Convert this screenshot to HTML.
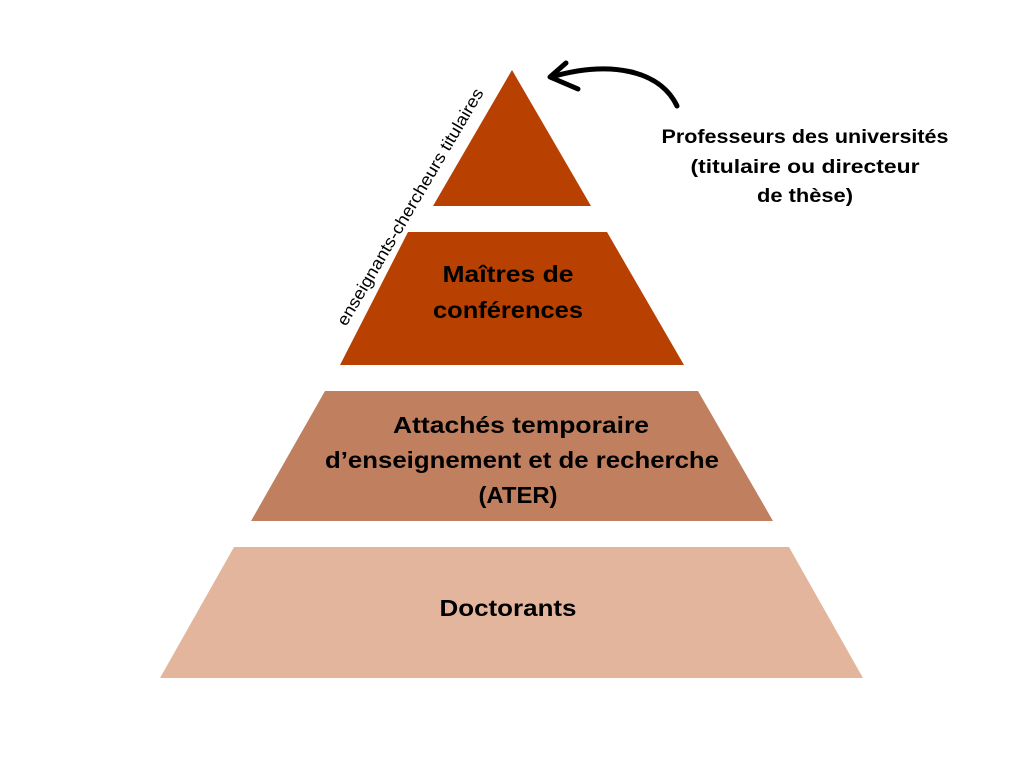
<!DOCTYPE html>
<html><head><meta charset="utf-8"><style>body{margin:0;background:#fff}svg{display:block}</style></head>
<body>
<svg width="1024" height="768" viewBox="0 0 1024 768" xmlns="http://www.w3.org/2000/svg" font-family="Liberation Sans, DejaVu Sans, sans-serif">
<rect width="1024" height="768" fill="#fff"/>
<polygon points="512,70 591,206 433,206" fill="#B84000"/>
<polygon points="408,232 607,232 684,365 340,365" fill="#B84000"/>
<polygon points="325,391 698,391 773,521 251,521" fill="#C07F5E"/>
<polygon points="234,547 789,547 863,678 160,678" fill="#E3B59C"/>
<g font-weight="bold" fill="#000" text-anchor="middle" font-size="23" lengthAdjust="spacingAndGlyphs">
<text x="508" y="282" textLength="131" lengthAdjust="spacingAndGlyphs">Maîtres de</text>
<text x="508" y="318" textLength="150" lengthAdjust="spacingAndGlyphs">conférences</text>
<text x="521" y="433" textLength="256" lengthAdjust="spacingAndGlyphs">Attachés temporaire</text>
<text x="522" y="468" textLength="394" lengthAdjust="spacingAndGlyphs">d’enseignement et de recherche</text>
<text x="518" y="503" textLength="79" lengthAdjust="spacingAndGlyphs">(ATER)</text>
<text x="508" y="616" textLength="137" lengthAdjust="spacingAndGlyphs">Doctorants</text>
<g font-size="19.5">
<text x="805" y="143" textLength="287" lengthAdjust="spacingAndGlyphs">Professeurs des universités</text>
<text x="805" y="173" textLength="229" lengthAdjust="spacingAndGlyphs">(titulaire ou directeur</text>
<text x="805" y="202" textLength="96" lengthAdjust="spacingAndGlyphs">de thèse)</text>
</g>
</g>
<text transform="translate(346,327) rotate(-59.5)" font-size="17" textLength="272" lengthAdjust="spacingAndGlyphs" fill="#000">enseignants-chercheurs titulaires</text>
<g fill="none" stroke="#000" stroke-width="5" stroke-linecap="round" stroke-linejoin="round">
<path d="M677,106 C660,70 610,60 551,77"/>
<path d="M566,63 L550,77 L578,89"/>
</g>
</svg>
</body></html>
